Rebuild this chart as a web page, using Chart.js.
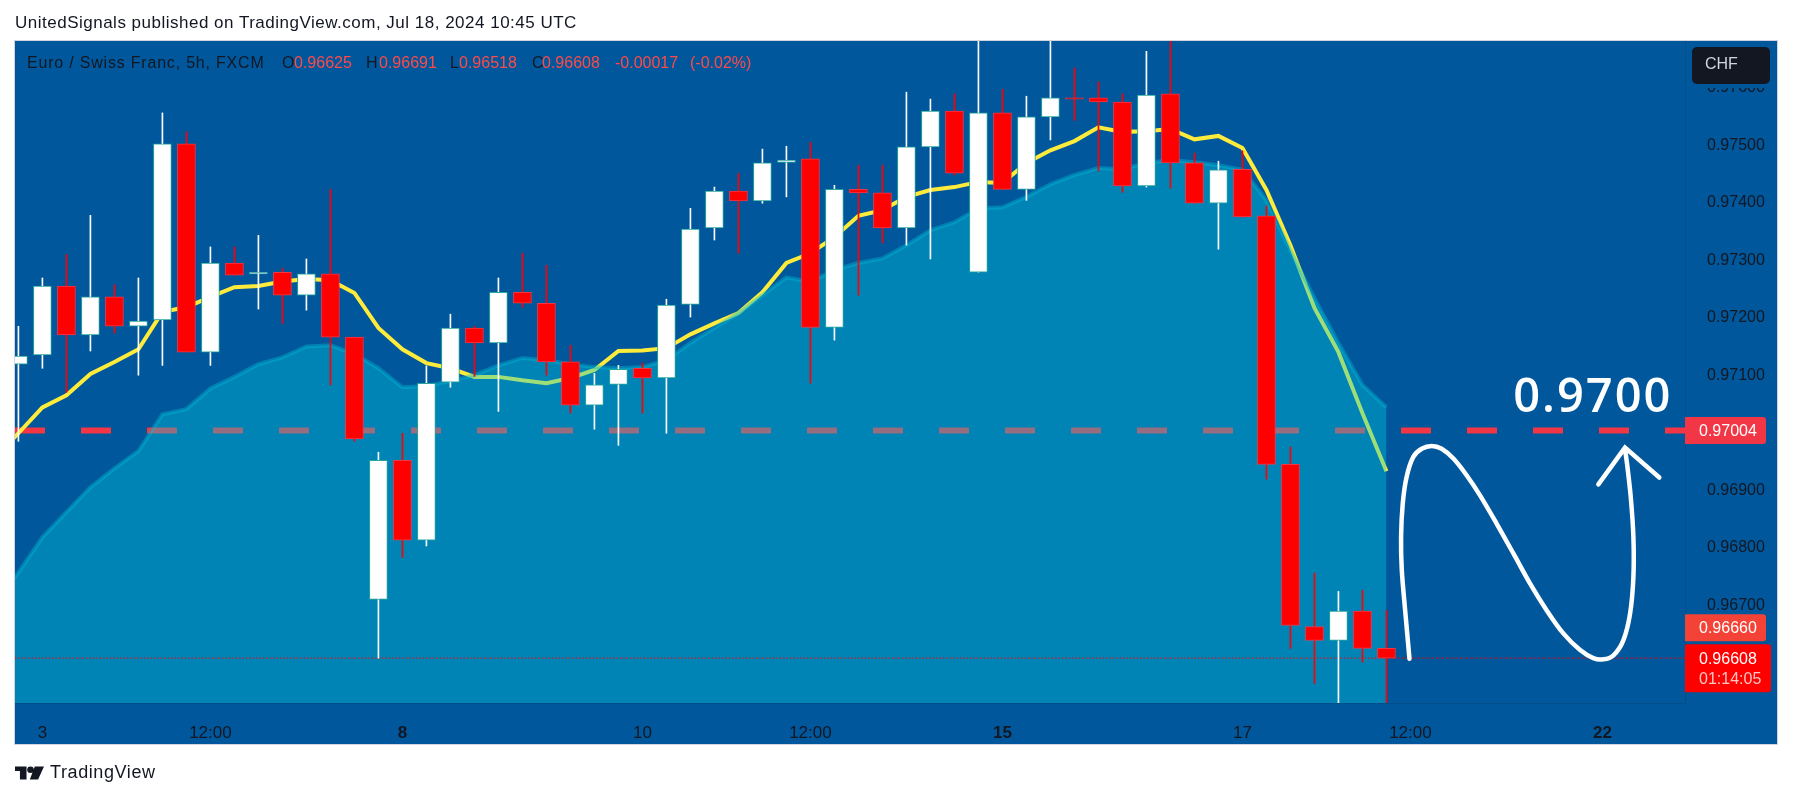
<!DOCTYPE html>
<html>
<head>
<meta charset="utf-8">
<title>EURCHF</title>
<script src="https://cdn.jsdelivr.net/npm/chart.js@4"></script>
<style>
  html, body { margin: 0; padding: 0; background: #fff; width: 1793px; height: 798px; overflow: hidden; }
  #wrap { position: relative; width: 1793px; height: 798px; }
  #title { position: absolute; left: 15px; top: 13px; font: 17px "Liberation Sans", sans-serif; letter-spacing: 0.5px; color: #131722; white-space: nowrap; }
  #brand { position: absolute; left: 15px; top: 762px; display: flex; align-items: center; color: #131722; font: 18px "Liberation Sans", sans-serif; letter-spacing: 0.6px; }
  #brand svg { margin-right: 6px; }
</style>
</head>
<body>
<div id="wrap">
  <canvas id="g_price" width="1793" height="798"></canvas>
  <div id="title">UnitedSignals published on TradingView.com, Jul 18, 2024 10:45 UTC</div>
  <div id="brand">
    <svg width="29" height="14" viewBox="0 0 88 40"><path fill="#131722" d="M0 0h35v40H15V14H0zM47 0a10 10 0 1 1 0 20a10 10 0 0 1 0-20zM60 0h28L70 40H45z"/></svg>
    <span>TradingView</span>
  </div>
</div>
<script>
const opens = [0.97119,0.97135,0.97255,0.97170,0.97236,0.97185,0.97196,0.97502,0.97140,0.97295,0.97276,0.97279,0.97239,0.97276,0.97166,0.96710,0.96952,0.96813,0.97088,0.97182,0.97156,0.97244,0.97225,0.97123,0.97048,0.97084,0.97112,0.97095,0.97223,0.97356,0.97420,0.97403,0.97470,0.97476,0.97183,0.97423,0.97417,0.97356,0.97497,0.97559,0.97279,0.97556,0.97423,0.97549,0.97582,0.97582,0.97575,0.97429,0.97589,0.97469,0.97399,0.97458,0.97377,0.96945,0.96663,0.96639,0.96690,0.96625]
const highs = [0.97185,0.97269,0.97310,0.97378,0.97257,0.97269,0.97556,0.97523,0.97323,0.97323,0.97343,0.97286,0.97302,0.97423,0.97166,0.96966,0.96999,0.97116,0.97206,0.97185,0.97269,0.97312,0.97291,0.97152,0.97103,0.97117,0.97121,0.97232,0.97390,0.97427,0.97451,0.97493,0.97498,0.97505,0.97430,0.97465,0.97465,0.97592,0.97580,0.97589,0.97700,0.97597,0.97585,0.97700,0.97634,0.97610,0.97589,0.97663,0.97700,0.97486,0.97472,0.97490,0.97394,0.96975,0.96756,0.96724,0.96726,0.96691]
const lows = [0.96985,0.97112,0.97070,0.97142,0.97173,0.97100,0.97117,0.97140,0.97117,0.97274,0.97215,0.97190,0.97213,0.97083,0.96985,0.96608,0.96783,0.96803,0.97079,0.97098,0.97037,0.97218,0.97100,0.97034,0.97006,0.96978,0.97034,0.96999,0.97201,0.97335,0.97312,0.97399,0.97410,0.97086,0.97161,0.97239,0.97330,0.97326,0.97302,0.97448,0.97279,0.97423,0.97404,0.97509,0.97543,0.97455,0.97418,0.97427,0.97425,0.97399,0.97319,0.97375,0.96919,0.96625,0.96564,0.96510,0.96601,0.96518]
const closes = [0.97133,0.97255,0.97170,0.97236,0.97185,0.97194,0.97502,0.97140,0.97295,0.97274,0.97279,0.97239,0.97276,0.97166,0.96989,0.96952,0.96813,0.97086,0.97182,0.97156,0.97244,0.97225,0.97123,0.97048,0.97083,0.97110,0.97095,0.97222,0.97354,0.97420,0.97403,0.97469,0.97474,0.97183,0.97423,0.97417,0.97356,0.97497,0.97559,0.97451,0.97556,0.97423,0.97549,0.97582,0.97580,0.97575,0.97429,0.97587,0.97469,0.97399,0.97457,0.97375,0.96945,0.96665,0.96639,0.96690,0.96625,0.96608]

// these two start one bar before the first candle, that bar is off screen
const yellowLine = [0.96954,0.96999,0.97044,0.97065,0.97102,0.97123,0.97145,0.97210,0.97218,0.97236,0.97253,0.97255,0.97263,0.97267,0.97265,0.97243,0.97182,0.97145,0.97121,0.97112,0.97097,0.97097,0.97091,0.97086,0.97095,0.97109,0.97142,0.97143,0.97147,0.97171,0.97190,0.97208,0.97244,0.97295,0.97312,0.97340,0.97377,0.97387,0.97410,0.97422,0.97427,0.97436,0.97434,0.97469,0.97491,0.97507,0.97531,0.97523,0.97524,0.97528,0.97510,0.97516,0.97495,0.97422,0.97326,0.97217,0.97140,0.97034,0.96933]
const areaLine = [0.96697,0.96757,0.96818,0.96862,0.96905,0.96938,0.96968,0.97032,0.97041,0.97077,0.97097,0.97119,0.97131,0.97150,0.97152,0.97137,0.97112,0.97079,0.97081,0.97090,0.97100,0.97117,0.97130,0.97126,0.97119,0.97114,0.97112,0.97114,0.97126,0.97156,0.97182,0.97208,0.97239,0.97270,0.97262,0.97283,0.97295,0.97303,0.97326,0.97352,0.97366,0.97390,0.97392,0.97410,0.97432,0.97448,0.97460,0.97458,0.97469,0.97474,0.97470,0.97465,0.97457,0.97404,0.97317,0.97234,0.97156,0.97083,0.97044]

// hand drawn wave and arrow, in bar index / price
const waveBars = [57.96,57.78,57.64,57.61,57.68,57.84,58.12,58.47,58.89,59.30,59.79,60.34,60.90,61.59,62.29,62.98,63.68,64.37,65.07,65.62,66.04,66.46,66.87,67.15,67.29,67.29,67.18,67.04,66.94]
const wavePrices = [0.96607,0.96691,0.96761,0.96819,0.96877,0.96923,0.96958,0.96972,0.96977,0.96972,0.96955,0.96926,0.96891,0.96842,0.96790,0.96738,0.96691,0.96651,0.96622,0.96608,0.96606,0.96613,0.96639,0.96685,0.96749,0.96819,0.96888,0.96941,0.96972]
const arrowBars = [65.83,66.94,68.37]
const arrowPrices = [0.96910,0.96974,0.96922]

const xTickBars = [1,8,16,26,33,41,51,58,66]
const xTickLabels = ["3","12:00","8","10","12:00","15","17","12:00","22"]
const boldTicks = ["8","15","22"]
const yTicks = [0.976,0.975,0.974,0.973,0.972,0.971,0.970,0.969,0.968,0.967,0.966]

const targetPrice = 0.97004
const pricePrev = 0.96660
const priceLast = 0.96608
const legendName = "Euro / Swiss Franc, 5h, FXCM"
const legendValues = ["0.96625","0.96691","0.96518","0.96608"]
const legendChange = "-0.00017"
const legendPercent = "(-0.02%)"

const FONT = '"Liberation Sans", sans-serif'
const BG = "#00579b"
const isUp = opens.map((o, i) => closes[i] >= o)

const overlay = {
    id: "overlay",
    beforeDraw(chart) {
        const c = chart.ctx
        const a = chart.chartArea
        const right = chart.scales.y.right
        const bottom = chart.scales.x.bottom
        c.save()
        c.fillStyle = BG
        c.fillRect(a.left, a.top, right - a.left, bottom - a.top)
        c.restore()
    },
    afterDraw(chart) {
        const c = chart.ctx
        const a = chart.chartArea
        const y = chart.scales.y
        const x = chart.scales.x
        const text = (s, px, py, color, font, spacing) => {
            c.fillStyle = color
            c.font = font || "16px " + FONT
            c.letterSpacing = spacing || "0px"
            c.fillText(s, px, py)
        }
        c.save()
        c.textBaseline = "middle"
        c.textAlign = "left"

        // frame
        c.strokeStyle = "#d1d4dc"
        c.lineWidth = 1
        c.strokeRect(a.left - 0.5, a.top - 0.5, y.right - a.left + 1, x.bottom - a.top + 1)

        // legend
        const red = "#ff4a4a"
        const dark = "#131722"
        text(legendName, 27, 64, dark, "16px " + FONT, "0.8px")
        text("O", 282, 64, dark)
        text(legendValues[0], 294, 64, red)
        text("H", 366, 64, dark)
        text(legendValues[1], 379, 64, red)
        text("L", 450, 64, dark)
        text(legendValues[2], 459, 64, red)
        text("C", 532, 64, dark)
        text(legendValues[3], 542, 64, red)
        text(legendChange, 615, 64, red)
        text(legendPercent, 690, 64, red)

        // big label over the target line
        text("0.9700", x.getPixelForValue(62.28), y.getPixelForValue(targetPrice) - 32, "#ffffff", "600 47px 'Open Sans', sans-serif", "2px")

        // currency box, with a gap around it that hides the tick below
        c.fillStyle = BG
        c.fillRect(y.left + 1, a.top, y.right - y.left - 1, 47)
        c.fillStyle = "#131722"
        c.beginPath()
        c.roundRect(y.left + 7, a.top + 6, 78, 37, 5)
        c.fill()
        text("CHF", y.left + 20, a.top + 24, "#d1d4dc")

        // price tags
        const tagX = y.left
        const labelX = y.left + 14
        let py = y.getPixelForValue(targetPrice)
        c.fillStyle = "#f23645"
        c.beginPath()
        c.roundRect(tagX, py - 13.5, 81, 27, [0, 3, 3, 0])
        c.fill()
        text(targetPrice.toFixed(5), labelX, py + 1, "#ffffff")

        py = y.getPixelForValue(pricePrev)
        c.fillStyle = "#f44336"
        c.beginPath()
        c.roundRect(tagX, py - 14, 81, 27, [0, 3, 3, 0])
        c.fill()
        text(pricePrev.toFixed(5), labelX, py, "#ffffff")

        py = y.getPixelForValue(priceLast)
        c.fillStyle = "#ff0000"
        c.beginPath()
        c.roundRect(tagX, py - 14, 86, 48, [0, 3, 3, 0])
        c.fill()
        text(priceLast.toFixed(5), labelX, py + 1, "#ffffff")
        text("01:14:05", labelX, py + 21, "#ffc4c4")
        c.restore()
    }
}

const flatLine = (price) => [{x: -1, y: price}, {x: 70, y: price}]

new Chart(document.getElementById("g_price"), {
    type: "bar",
    plugins: [overlay],
    data: {
        datasets: [
            {
                type: "line",
                data: flatLine(targetPrice),
                borderColor: "#f23645",
                borderWidth: 6,
                borderDash: [30, 36],
                borderDashOffset: -20.6,
                pointRadius: 0,
                order: 9
            },
            {
                type: "line",
                data: yellowLine.map((v, i) => ({x: i - 1, y: v})),
                borderColor: "#ffeb3b",
                borderWidth: 4,
                pointRadius: 0,
                order: 8
            },
            {
                type: "line",
                data: areaLine.map((v, i) => ({x: i - 1, y: v})),
                borderColor: "rgba(0,188,212,0.4)",
                backgroundColor: "rgba(0,202,223,0.38)",
                borderWidth: 4,
                pointRadius: 0,
                fill: "start",
                order: 7
            },
            {
                type: "line",
                data: flatLine(priceLast),
                borderColor: "#ff0000",
                borderWidth: 1.2,
                borderDash: [1.2, 2.2],
                pointRadius: 0,
                order: 6
            },
            {
                data: lows.map((v, i) => ({x: i, y: [v, highs[i]]})),
                backgroundColor: isUp.map(u => u ? "#ffffff" : "#ff0000"),
                barThickness: 1,
                order: 5
            },
            {
                data: opens.map((v, i) => ({x: i, y: [v, closes[i]]})),
                backgroundColor: isUp.map(u => u ? "#ffffff" : "#ff0000"),
                borderColor: isUp.map(u => u ? "#26a69a" : "#f23645"),
                borderWidth: 1,
                borderSkipped: false,
                barThickness: 18,
                order: 4
            },
            {
                type: "line",
                data: waveBars.map((v, i) => ({x: v, y: wavePrices[i]})),
                borderColor: "#ffffff",
                borderWidth: 4.5,
                borderCapStyle: "round",
                borderJoinStyle: "round",
                tension: 0.3,
                pointRadius: 0,
                order: 3
            },
            {
                type: "line",
                data: arrowBars.map((v, i) => ({x: v, y: arrowPrices[i]})),
                borderColor: "#ffffff",
                borderWidth: 4.5,
                borderCapStyle: "round",
                pointRadius: 0,
                order: 2
            }
        ]
    },
    options: {
        responsive: false,
        animation: false,
        events: [],
        layout: { padding: { left: 15, top: 41, right: 16, bottom: 54 } },
        datasets: { bar: { grouped: false } },
        plugins: {
            legend: { display: false },
            tooltip: { enabled: false }
        },
        scales: {
            x: {
                type: "linear",
                offset: false,
                min: -0.142,
                max: 69.44,
                grid: { display: false },
                border: { display: true, color: "rgba(0,0,0,0.1)" },
                afterBuildTicks: s => { s.ticks = xTickBars.map(v => ({value: v})) },
                afterFit: s => { s.height = 41 },
                ticks: {
                    autoSkip: false,
                    maxRotation: 0,
                    padding: 12,
                    color: "#131722",
                    font: ctx => ({ family: FONT, size: 17, weight: boldTicks.includes(xTickLabels[ctx.index]) ? "bold" : "normal" }),
                    callback: v => xTickLabels[xTickBars.indexOf(v)]
                }
            },
            y: {
                position: "right",
                min: 0.9653,
                max: 0.97681,
                grid: { display: false },
                border: { display: true, color: "rgba(0,0,0,0.1)" },
                afterBuildTicks: s => { s.ticks = yTicks.map(v => ({value: v})) },
                afterFit: s => { s.width = 92 },
                ticks: {
                    padding: 14,
                    color: "#131722",
                    font: { family: FONT, size: 16 },
                    callback: v => v.toFixed(5)
                }
            }
        }
    }
})
</script>
</body>
</html>
